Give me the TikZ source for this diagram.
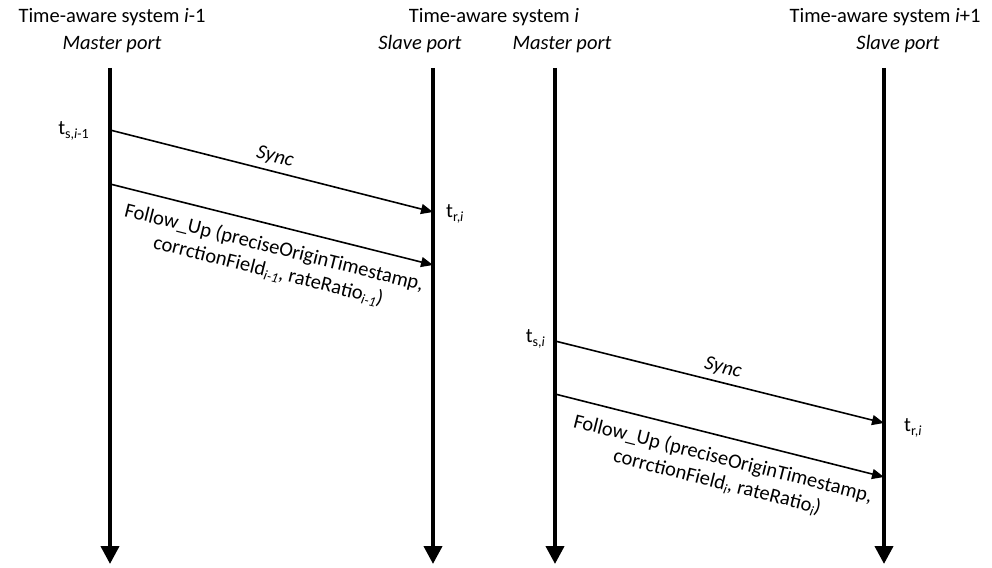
\documentclass[tikz,border=0pt]{standalone}
\usepackage{fontspec}
\setmainfont{Carlito}
\usetikzlibrary{arrows.meta}
% lowered, smaller index text for time stamps and fields
\newcommand{\lowidx}[1]{\raisebox{-0.35ex}{\fontsize{14}{14}\selectfont #1}}
\begin{document}
\begin{tikzpicture}[x=1pt,y=-1pt,
  every node/.style={font=\fontsize{20.5}{24}\selectfont, inner sep=0pt},
  timeline/.style={line width=4pt, -{Triangle[length=18pt,width=18pt]}},
  message/.style={line width=1.6pt, -{Triangle[length=12pt,width=10pt]}},
  header/.style={anchor=base},
  msglabel/.style={sloped, align=center}
]
\useasboundingbox (0,0) rectangle (992,567);

% headers
\node[header] (h1) at (112,23) {Time-aware system \textit{i}-1};
\node[header] (p1) at (112,50) {\textit{Master port}};
\node[header] (p2) at (420,50) {\textit{Slave port}};
\node[header] (h2) at (494,23) {Time-aware system \textit{i}};
\node[header] (p3) at (562,50) {\textit{Master port}};
\node[header] (h3) at (885,23) {Time-aware system \textit{i}+1};
\node[header] (p4) at (898,50) {\textit{Slave port}};

% time lines
\coordinate (aTop) at (110,68);  \coordinate (aBot) at (110,564);
\coordinate (bTop) at (433,68);  \coordinate (bBot) at (433,564);
\coordinate (cTop) at (555,68);  \coordinate (cBot) at (555,564);
\coordinate (dTop) at (884,68);  \coordinate (dBot) at (884,564);
\draw[timeline] (aTop) -- (aBot);
\draw[timeline] (bTop) -- (bBot);
\draw[timeline] (cTop) -- (cBot);
\draw[timeline] (dTop) -- (dBot);

% messages between system i-1 and system i
\coordinate (s1a) at (110,130); \coordinate (s1b) at (433,212);
\coordinate (f1a) at (110,184); \coordinate (f1b) at (433,265);
\draw[message] (s1a) -- node[msglabel, above=5pt] (sync1) {\textit{Sync}} (s1b);
\draw[message] (f1a) -- node[msglabel, pos=0.525, below=12pt] (fu1)
  {Follow\_Up (preciseOriginTimestamp,\\
   corrctionField\lowidx{\textit{i-1}}, rateRatio\lowidx{\textit{i-1}})} (f1b);
\node[anchor=east] (ts1) at (89,131) {t\lowidx{s,\textit{i}-1}};
\node[anchor=west] (tr1) at (446,214) {t\lowidx{r,\textit{i}}};

% messages between system i and system i+1
\coordinate (s2a) at (555,341); \coordinate (s2b) at (884,423);
\coordinate (f2a) at (555,394); \coordinate (f2b) at (884,477);
\draw[message] (s2a) -- node[msglabel, above=5pt] (sync2) {\textit{Sync}} (s2b);
\draw[message] (f2a) -- node[msglabel, pos=0.527, below=12pt] (fu2)
  {Follow\_Up (preciseOriginTimestamp,\\
   corrctionField\lowidx{\textit{i}}, rateRatio\lowidx{\textit{i}})} (f2b);
\node[anchor=east] (ts2) at (545,339) {t\lowidx{s,\textit{i}}};
\node[anchor=west] (tr2) at (904,428) {t\lowidx{r,\textit{i}}};
\end{tikzpicture}
\end{document}
